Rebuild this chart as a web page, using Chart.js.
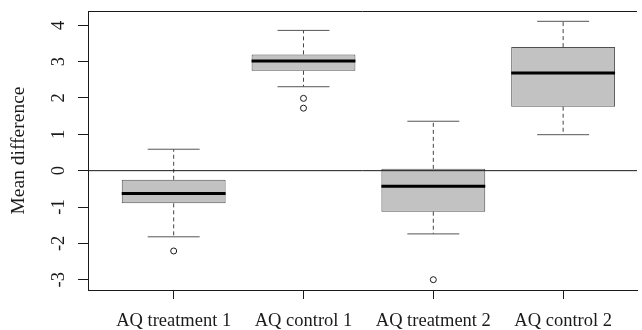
<!DOCTYPE html>
<html>
<head>
<meta charset="utf-8">
<title>Mean difference boxplot</title>
<script src="https://cdn.jsdelivr.net/npm/chart.js@4.4.1/dist/chart.umd.min.js"></script>
<style>
  body { margin: 0; background: #fff; }
  #wrap { width: 642px; height: 330px; }
</style>
</head>
<body>
<div id="wrap"><canvas id="chart" width="642" height="330"></canvas></div>
<script>
// boxplot stats
var categories = ['AQ treatment 1', 'AQ control 1', 'AQ treatment 2', 'AQ control 2'];
var whiskerLow = [-1.82, 2.31, -1.74, 0.99];
var boxLow = [-0.90, 2.75, -1.13, 1.76];
var medians = [-0.63, 3.02, -0.43, 2.69];
var boxHigh = [-0.25, 3.20, 0.05, 3.40];
var whiskerHigh = [0.59, 3.86, 1.36, 4.11];
// outliers as [category index, value]
var outliers = [[0, -2.21], [1, 1.99], [1, 1.72], [2, -3.00]];
var yTicks = [-3, -2, -1, 0, 1, 2, 3, 4];

// axis limits (R style, 4% padding), right side is cut off in the picture
var yMin = -3.284, yMax = 4.394;
var xMin = 0.34, xMax = 4.569;

var serif = 'Liberation Serif';
var ink = '#1a1a1a';

// build datasets from the arrays above
var boxData = categories.map(function (c, i) {
    return { x: i + 1, y: [boxLow[i], boxHigh[i]] };
});
var whiskerData = [], capData = [], medianData = [];
categories.forEach(function (c, i) {
    var x = i + 1;
    whiskerData.push({ x: x, y: boxHigh[i] }, { x: x, y: whiskerHigh[i] }, { x: x, y: null });
    whiskerData.push({ x: x, y: boxLow[i] }, { x: x, y: whiskerLow[i] }, { x: x, y: null });
    capData.push({ x: x - 0.2, y: whiskerHigh[i] }, { x: x + 0.2, y: whiskerHigh[i] }, { x: x, y: null });
    capData.push({ x: x - 0.2, y: whiskerLow[i] }, { x: x + 0.2, y: whiskerLow[i] }, { x: x, y: null });
    medianData.push({ x: x - 0.4, y: medians[i] }, { x: x + 0.4, y: medians[i] }, { x: x, y: null });
});
var outlierData = outliers.map(function (o) {
    return { x: o[0] + 1, y: o[1] };
});

// top edge of the frame
var frameTop = {
    id: 'frameTop',
    afterDraw: function (chart) {
        var a = chart.chartArea, ctx = chart.ctx;
        ctx.save();
        ctx.strokeStyle = ink;
        ctx.lineWidth = 1;
        ctx.beginPath();
        ctx.moveTo(a.left, Math.round(a.top) + 0.5);
        ctx.lineTo(a.right, Math.round(a.top) + 0.5);
        ctx.stroke();
        ctx.restore();
    }
};

new Chart(document.getElementById('chart'), {
    type: 'bar',
    data: {
        datasets: [
            {
                type: 'scatter', data: outlierData, order: 0,
                pointRadius: 3, pointBorderWidth: 1,
                pointBackgroundColor: '#fff', pointBorderColor: ink, showLine: false
            },
            {
                type: 'line', data: [{ x: xMin, y: 0 }, { x: xMax, y: 0 }], order: 1,
                borderColor: ink, borderWidth: 1, pointRadius: 0
            },
            {
                type: 'line', data: medianData, order: 2,
                borderColor: '#000', borderWidth: 3, pointRadius: 0, spanGaps: false, borderCapStyle: 'butt'
            },
            {
                type: 'line', data: capData, order: 3,
                borderColor: '#555', borderWidth: 1, pointRadius: 0, spanGaps: false
            },
            {
                type: 'line', data: whiskerData, order: 4,
                borderColor: '#444', borderWidth: 1, borderDash: [4, 3], pointRadius: 0, spanGaps: false
            },
            {
                type: 'bar', data: boxData, order: 5,
                backgroundColor: '#c2c2c2', borderColor: '#505050', borderWidth: 1,
                borderSkipped: false, categoryPercentage: 1, barPercentage: 0.8
            }
        ]
    },
    options: {
        responsive: false,
        animation: false,
        devicePixelRatio: 1,
        layout: { padding: { top: 11, right: 0, bottom: 0, left: 0 } },
        plugins: { legend: { display: false }, tooltip: { enabled: false } },
        scales: {
            x: {
                type: 'linear', min: xMin, max: xMax, offset: false,
                afterBuildTicks: function (s) {
                    s.ticks = categories.map(function (c, i) { return { value: i + 1 }; });
                },
                afterFit: function (s) {
                    s.height = 40;
                    s.paddingLeft = 0;
                    s.paddingRight = 0;
                },
                ticks: {
                    autoSkip: false, maxRotation: 0, minRotation: 0, padding: 11, color: ink,
                    font: { family: serif, size: 18.5 },
                    callback: function (v) { return categories[v - 1]; }
                },
                grid: { drawOnChartArea: false, offset: false, tickLength: 9, tickColor: ink },
                border: { display: true, color: ink }
            },
            y: {
                type: 'linear', min: yMin, max: yMax,
                afterBuildTicks: function (s) {
                    s.ticks = yTicks.map(function (v) { return { value: v }; });
                },
                afterFit: function (s) {
                    s.width = 88;
                    s.paddingTop = 0;
                    s.paddingBottom = 0;
                },
                ticks: {
                    minRotation: 90, maxRotation: 90, crossAlign: 'center', padding: 11, color: ink,
                    font: { family: serif, size: 18.5 }
                },
                grid: { drawOnChartArea: false, tickLength: 10, tickColor: ink },
                border: { display: true, color: ink },
                title: {
                    display: true, text: 'Mean difference', color: ink,
                    font: { family: serif, size: 19.5 }, padding: { top: 7, bottom: 0 }
                }
            }
        }
    },
    plugins: [frameTop]
});
</script>
</body>
</html>
